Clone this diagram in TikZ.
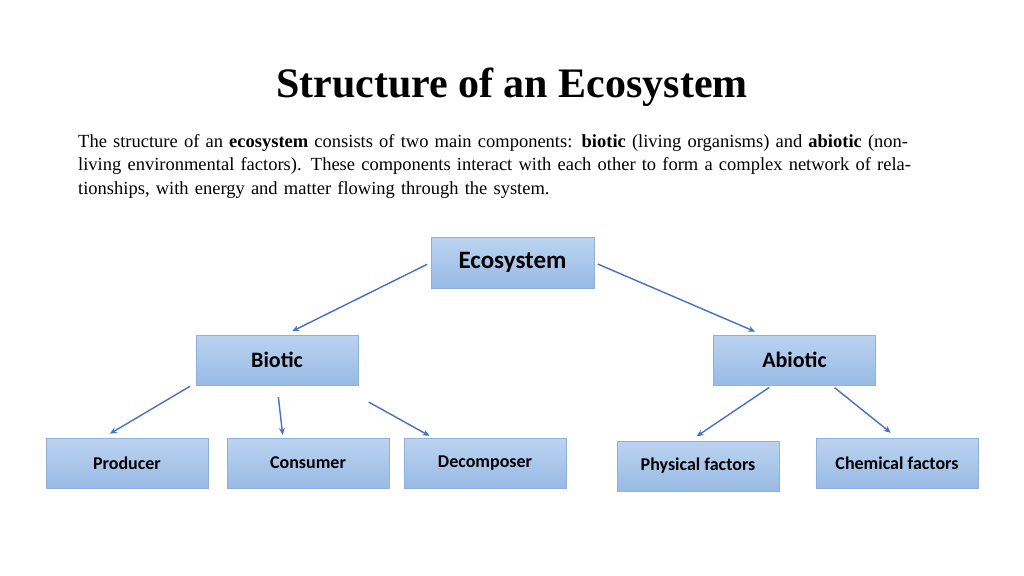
\documentclass[tikz,border=0pt]{standalone}
\usepackage{fontspec}
\setmainfont{Liberation Serif}
\newfontfamily\boxfont{Carlito}
\usetikzlibrary{arrows.meta}
\definecolor{boxtop}{HTML}{BCD3F0}
\definecolor{boxbot}{HTML}{98BAE5}
\definecolor{boxline}{HTML}{8FB0DA}
\definecolor{arrowblue}{HTML}{4472C4}
\tikzset{
  part/.style={draw=boxline,top color=boxtop,bottom color=boxbot,minimum width=162pt,minimum height=50pt,inner sep=0pt,font=\boxfont\bfseries\fontsize{18}{20}\selectfont},
  link/.style={draw=arrowblue,line width=1.4pt,-{Stealth[length=7pt,width=6pt]},shorten <=4pt,shorten >=8pt}
}
\begin{document}
\begin{tikzpicture}[x=1pt,y=-1pt]
 \useasboundingbox [fill=white] (0,0) rectangle (1024,575);
 %title and text
 \node (title) at (512,87) {\fontsize{42}{48}\selectfont\bfseries Structure of an Ecosystem};
 \node [anchor=north west,text width=840pt,inner sep=0pt,align=left,font=\fontsize{18.5}{23.5}\selectfont] (intro) at (78,134)
 {The structure of an \textbf{ecosystem} consists of two main components: \textbf{biotic} (living organisms) and \textbf{abiotic} (non-living environmental factors). These components interact with each other to form a complex network of relationships, with energy and matter flowing through the system.};
 %boxes
 \node [part,minimum width=163pt,minimum height=51pt,font=\boxfont\bfseries\fontsize{25}{28}\selectfont] (eco) at (512.5,262.5) {Ecosystem};
 \node [part,font=\boxfont\bfseries\fontsize{22}{24}\selectfont] (bio) at (277,360) {Biotic};
 \node [part,font=\boxfont\bfseries\fontsize{22}{24}\selectfont] (abio) at (794.5,360) {Abiotic};
 \node [part] (prod) at (127,463) {Producer};
 \node [part] (cons) at (308,463) {Consumer};
 \node [part] (decomp) at (485,463) {Decomposer};
 \node [part] (phys) at (698,466) {Physical factors};
 \node [part] (chem) at (897,463) {Chemical factors};
 %arrows
 \draw [link] (eco.west) -- ([xshift=8pt]bio.north);
 \draw [link] (eco.east) -- ([xshift=-32pt]abio.north);
 \draw [link,shorten <=2pt] ([xshift=-4pt]bio.south west) -- ([xshift=-24pt]prod.north);
 \draw [link,shorten <=12pt,shorten >=3pt] (bio.south) -- ([xshift=-25pt]cons.north);
 \draw [link,shorten <=12pt,shorten >=4pt] ([yshift=-11pt]bio.south east) -- ([xshift=-52pt]decomp.north);
 \draw [link] ([xshift=-22pt]abio.south) -- ([xshift=-8pt]phys.north);
 \draw [link] ([xshift=37pt]abio.south) -- (chem.north);
\end{tikzpicture}
\end{document}
